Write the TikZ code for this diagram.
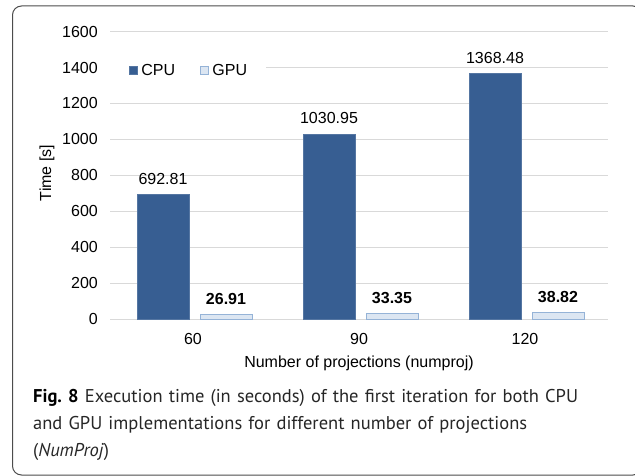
\documentclass[tikz,border=0pt]{standalone}
\usepackage{fontspec}
\setmainfont{Liberation Sans}
\newfontfamily\capfont{PT Sans}
\usetikzlibrary{positioning}

\definecolor{cpublue}{RGB}{55,94,146}
\definecolor{gpufill}{RGB}{220,230,242}
\definecolor{gpuedge}{RGB}{149,179,215}
\definecolor{gridgray}{RGB}{217,217,217}

\newcommand{\Yzero}{319}
\newcommand{\Yscale}{0.1796}

\begin{document}
\begin{tikzpicture}[x=1pt,y=-1pt,
  lbl/.style={font=\fontsize{16}{18}\selectfont, inner sep=0pt},
  cpubar/.style={fill=cpublue, draw=cpublue!85!white},
  gpubar/.style={fill=gpufill, draw=gpuedge},
  gridline/.style={draw=gridgray, line width=0.8pt}]
\useasboundingbox (0,0) rectangle (635,476);

\draw[black!70, line width=1pt, rounded corners=9pt] (12.5,6) rectangle (642,475);

% Grid and ticks
\foreach \v in {0,200,...,1600} {
  \draw[gridline] (110,{\Yzero-\Yscale*\v}) -- (608,{\Yzero-\Yscale*\v});
  \node[lbl, anchor=east] (tick\v) at (98,{\Yzero-\Yscale*\v}) {\v};
}

% Bars
\foreach \i/\cat/\cpu/\gpu in {1/60/692.81/26.91, 2/90/1030.95/33.35, 3/120/1368.48/38.82} {
  \pgfmathsetmacro\cx{110+166*(\i-0.5)}
  \path[cpubar] ({\cx-56},\Yzero) rectangle ({\cx-4},{\Yzero-\Yscale*\cpu});
  \path[gpubar] ({\cx+7},\Yzero) rectangle ({\cx+59},{\Yzero-\Yscale*\gpu});
  \node[lbl] (cpuval\i) at ({\cx-30},{\Yzero-\Yscale*\cpu-15.5}) {\cpu};
  \node[lbl, font=\fontsize{16}{18}\selectfont\bfseries] (gpuval\i) at ({\cx+33},{\Yzero-\Yscale*\gpu-15.5}) {\gpu};
  \node[lbl] (cat\i) at (\cx,339) {\cat};
}

% Legend
\fill[white] (108,57) rectangle (266,81);
\node[cpubar, minimum size=8pt, inner sep=0pt] (keycpu) at (133.5,70) {};
\node[lbl, right=3.5pt of keycpu] (txtcpu) {CPU};
\node[gpubar, minimum size=8pt, inner sep=0pt] (keygpu) at (204.5,70) {};
\node[lbl, right=3.5pt of keygpu] (txtgpu) {GPU};

% Axis titles
\node[lbl, rotate=90] (ytitle) at (47,173) {Time [s]};
\node[lbl] (xtitle) at (359,363) {Number of projections (numproj)};

% Caption
\node[anchor=north west, inner sep=0pt, text width=600pt, align=left,
      text=black!85, font=\capfont\fontsize{18.5}{27}\selectfont] (caption) at (33,389)
  {\textbf{\color{black}Fig.\ 8} Execution time (in seconds) of the first iteration for both CPU\\
   and GPU implementations for different number of projections\\
   (\textit{NumProj})};

\end{tikzpicture}
\end{document}
